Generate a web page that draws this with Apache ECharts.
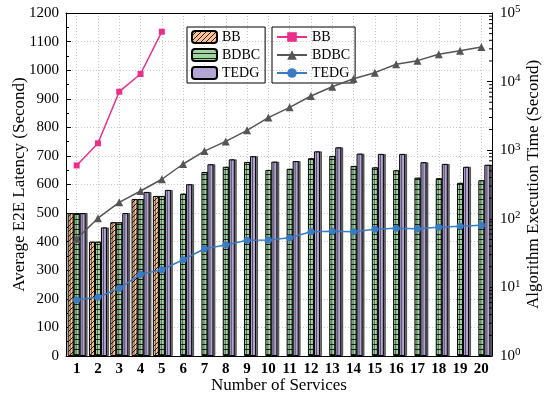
<!DOCTYPE html>
<html><head><meta charset="utf-8">
<script src="https://cdn.jsdelivr.net/npm/echarts@6/dist/echarts.min.js"></script>
<style>html,body{margin:0;padding:0;background:#fff}#c{width:545px;height:394px}</style>
</head><body><div id="c"></div>
<script>
const categories = ['1','2','3','4','5','6','7','8','9','10','11','12','13','14','15','16','17','18','19','20'];
const latencyBB   = [500,400,468,549,560,null,null,null,null,null,null,null,null,null,null,null,null,null,null,null];
const latencyBDBC = [500,400,468,549,560,568,644,662,679,651,655,692,700,665,660,650,624,622,606,615];
const latencyTEDG = [500,450,500,574,581,601,671,688,699,680,682,716,730,708,707,707,678,672,662,669];
const timeBB   = [600,1260,7130,12900,53400,null,null,null,null,null,null,null,null,null,null,null,null,null,null,null];
const timeBDBC = [51,102,174,254,377,629,970,1344,1946,2985,4220,6170,8430,11000,13500,17900,20200,25000,28200,31900];
const timeTEDG = [6.55,7.17,9.7,15.5,18.1,25.3,36.6,41.5,48.6,49.1,53,64.9,65.7,64.9,70.3,72.7,71.7,75.2,77.8,80.4];
const logMinorTicks = [2,3,4,5,6,7,8,9,20,30,40,50,60,70,80,90,200,300,400,500,600,700,800,900,
  2000,3000,4000,5000,6000,7000,8000,9000,20000,30000,40000,50000,60000,70000,80000,90000];

const FONT = 'Liberation Serif';

function hatchPattern(){
  const c = document.createElement('canvas'); c.width = 5; c.height = 5;
  const g = c.getContext('2d');
  g.fillStyle = '#f9c196'; g.fillRect(0,0,5,5);
  g.strokeStyle = '#222'; g.lineWidth = 1;
  g.beginPath();
  g.moveTo(0,5); g.lineTo(5,0);
  g.moveTo(-1,1); g.lineTo(1,-1);
  g.moveTo(4,6); g.lineTo(6,4);
  g.stroke();
  return c;
}
function hlinePattern(){
  const c = document.createElement('canvas'); c.width = 6; c.height = 5;
  const g = c.getContext('2d');
  g.fillStyle = '#9fd6a0'; g.fillRect(0,0,6,5);
  g.fillStyle = '#222'; g.fillRect(0,4,6,1);
  return c;
}

const chart = echarts.init(document.getElementById('c'), null, {renderer:'canvas'});
const barShadow = {shadowColor:'rgba(0,0,0,0.55)', shadowOffsetX:2, shadowOffsetY:0, shadowBlur:0};
const titleStyle = {fontFamily:FONT, fontSize:17, color:'#000'};

chart.setOption({
  animation:false,
  backgroundColor:'#fff',
  textStyle:{fontFamily:FONT},
  grid:{left:66, right:53, top:13, bottom:38, containLabel:false, outerBoundsMode:'none'},
  legend:[
    {data:['BB','BDBC','TEDG'], orient:'vertical', left:187, top:27, itemWidth:25, itemHeight:12, itemGap:4,
     padding:[3,5,3,4], borderColor:'#000', borderWidth:1, textStyle:{fontFamily:FONT, fontSize:14, color:'#000'}, selectedMode:false},
    {data:['BB line','BDBC line','TEDG line'], formatter:n=>n.replace(' line',''), orient:'vertical', left:272, top:27,
     itemWidth:30, itemHeight:12, itemGap:4, padding:[3,5,3,4], borderColor:'#000', borderWidth:1,
     textStyle:{fontFamily:FONT, fontSize:14, color:'#000'}, selectedMode:false}
  ],
  xAxis:[
    {type:'category', data:categories, position:'bottom',
     name:'Number of Services', nameLocation:'middle', nameGap:21, nameMoveOverlap:false,
     nameTextStyle:titleStyle,
     axisLine:{lineStyle:{color:'#000', width:1}},
     axisTick:{inside:true, alignWithLabel:true, length:5, lineStyle:{color:'#000'}},
     axisLabel:{interval:0, fontFamily:FONT, fontSize:15, fontWeight:'bold', color:'#000', margin:6},
     splitLine:{show:true, alignWithLabel:true, interval:0, lineStyle:{color:'#c8c8c8', type:[1,2], width:1}}},
    {type:'category', data:categories, position:'top',
     axisLine:{lineStyle:{color:'#000', width:1}},
     axisTick:{inside:true, alignWithLabel:true, length:5, lineStyle:{color:'#000'}},
     axisLabel:{show:false}, splitLine:{show:false}}
  ],
  yAxis:[
    {type:'value', min:0, max:1200, interval:100, position:'left',
     name:'Average E2E Latency (Second)', nameLocation:'middle', nameGap:38, nameMoveOverlap:false,
     nameTextStyle:titleStyle,
     axisLine:{show:true, lineStyle:{color:'#000', width:1}},
     axisTick:{show:true, inside:true, length:5, lineStyle:{color:'#000'}},
     minorTick:{show:true, splitNumber:2, length:3, lineStyle:{color:'#000'}},
     axisLabel:{fontFamily:FONT, fontSize:15, color:'#000', margin:7, formatter:v=>String(v)},
     splitLine:{show:true, lineStyle:{color:'#c8c8c8', type:[1,2], width:1}}},
    {type:'log', logBase:10, min:1, max:100000, position:'right',
     name:'Algorithm Execution Time (Second)', nameLocation:'middle', nameGap:33, nameMoveOverlap:false,
     nameTextStyle:titleStyle,
     axisLine:{show:true, lineStyle:{color:'#000', width:1}},
     axisTick:{show:true, inside:true, length:5, lineStyle:{color:'#000'}},
     axisLabel:{fontFamily:FONT, color:'#000', margin:8,
       formatter:v=>'{b|10}{s|'+Math.round(Math.log10(v))+'}',
       rich:{b:{fontFamily:FONT, fontSize:15, color:'#000'}, s:{fontFamily:FONT, fontSize:11, color:'#000', verticalAlign:'top', padding:[0,0,7,0]}}},
     splitLine:{show:false}}
  ],
  series:[
    {name:'BB', type:'bar', data:latencyBB, barWidth:6, barGap:'0%',
     itemStyle:Object.assign({color:{image:hatchPattern(), repeat:'repeat'}, borderColor:'#000', borderWidth:1}, barShadow)},
    {name:'BDBC', type:'bar', data:latencyBDBC, barWidth:6, barGap:'0%',
     itemStyle:Object.assign({color:{image:hlinePattern(), repeat:'repeat'}, borderColor:'#000', borderWidth:1}, barShadow)},
    {name:'TEDG', type:'bar', data:latencyTEDG, barWidth:6, barGap:'0%',
     itemStyle:Object.assign({color:'#b3a6d4', borderColor:'#000', borderWidth:1}, barShadow)},
    {name:'BB line', type:'line', yAxisIndex:1, data:timeBB, symbol:'rect', symbolSize:6, z:5,
     lineStyle:{color:'#ec2f8b', width:1.5}, itemStyle:{color:'#ec2f8b'}},
    {name:'BDBC line', type:'line', yAxisIndex:1, data:timeBDBC, symbol:'triangle', symbolSize:8, z:5,
     lineStyle:{color:'#555', width:1.5}, itemStyle:{color:'#555'}},
    {name:'TEDG line', type:'line', yAxisIndex:1, data:timeTEDG, symbol:'circle', symbolSize:7, z:5,
     lineStyle:{color:'#3a7cc3', width:1.5}, itemStyle:{color:'#3a7cc3'}},
    {name:'minorTicks', type:'custom', yAxisIndex:1, silent:true, z:6,
     data:logMinorTicks.map(v=>[0,v]), encode:{x:0, y:1},
     renderItem:(params, api)=>{
       const y = api.coord([0, api.value(1)])[1];
       const cs = params.coordSys;
       const x = cs.x + cs.width;
       return {type:'line', shape:{x1:x, y1:y, x2:x-3, y2:y}, style:{stroke:'#000', lineWidth:1}};
     }}
  ]
});
</script></body></html>
